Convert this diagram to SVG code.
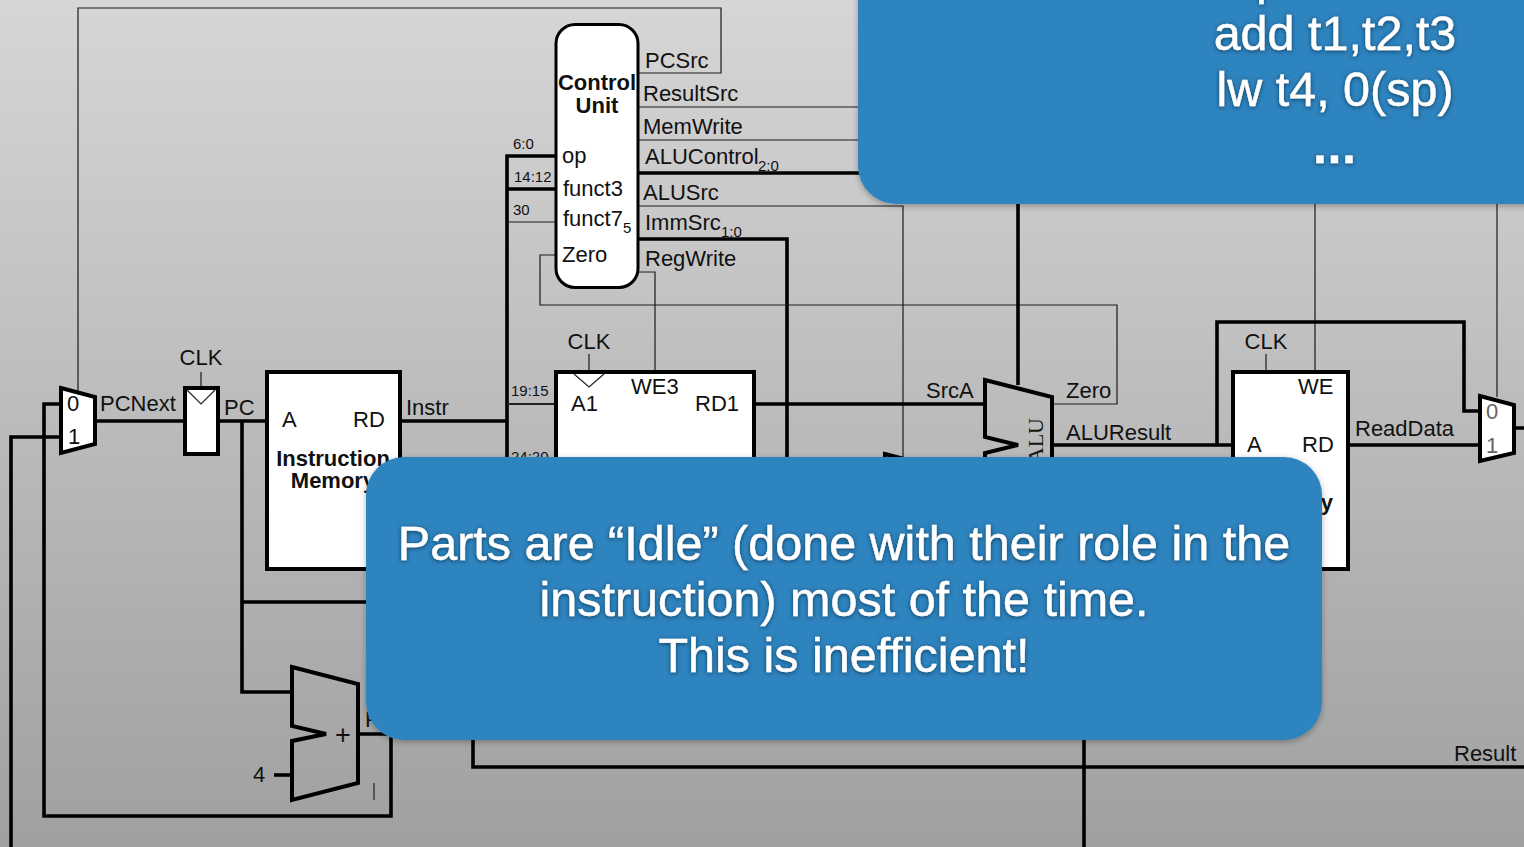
<svg xmlns="http://www.w3.org/2000/svg" width="1524" height="847" viewBox="0 0 1524 847">
<defs>
<linearGradient id="bg" x1="0" y1="0" x2="0" y2="1"><stop offset="0" stop-color="#d6d6d6"/><stop offset="1" stop-color="#a0a0a0"/></linearGradient>
<filter id="boxShadow" x="-5%" y="-5%" width="110%" height="115%"><feDropShadow dx="0" dy="2" stdDeviation="3" flood-color="#000" flood-opacity="0.3"/></filter>
<filter id="textShadow" x="-5%" y="-20%" width="110%" height="140%"><feDropShadow dx="0" dy="1" stdDeviation="2" flood-color="#0a2a44" flood-opacity="0.8"/></filter>
</defs>
<style>
text{font-family:"Liberation Sans",Arial,sans-serif;font-size:22px;fill:#111}
.thick{fill:none;stroke:#000;stroke-width:3.6;stroke-linejoin:miter}
.thin{fill:none;stroke:#1c1c1c;stroke-width:1.2}
.part{fill:#fff;stroke:#000;stroke-width:4;stroke-linejoin:miter}
.open{fill:none;stroke:#000;stroke-width:4;stroke-linejoin:miter}
.clk{fill:#fff;stroke:#222;stroke-width:1.2}
.b{font-weight:bold}
.m{text-anchor:middle}
.s{font-size:15px}
.gray{fill:#666}
.call{fill:#2e84bf;filter:url(#boxShadow)}
.ct{font-size:48.5px;fill:#fff;stroke:#fff;stroke-width:0.4;text-anchor:middle;filter:url(#textShadow)}
</style>
<rect width="1524" height="847" fill="url(#bg)"/>
<g id="connectors">
<path class="thin" d="M638 73H721V8H78V392"/>
<path class="thin" d="M638 107H860M638 140H860"/>
<path class="thick" d="M638 173H860"/>
<path class="thin" d="M638 206H903V470"/>
<path class="thick" d="M638 239H787V470"/>
<path class="thin" d="M638 272H655V371"/>
<path class="thin" d="M556 255H540V305H1117V404H1052"/>
<path class="thick" d="M556 156H507V470M507 189H556M400 421H507"/>
<path class="thin" d="M507 222H556"/>
<path d="M507 404H556" fill="none" stroke="#222" stroke-width="2"/>
<path class="thick" d="M754 404H985"/>
<path class="thick" d="M1018 200V385"/>
<path class="thin" d="M1315 200V371M1497 200V397"/>
<path class="thick" d="M1052 445H1233M1217 445V322H1464V411H1480"/>
<path class="thick" d="M1348 445H1480M1514 428H1524"/>
<path class="thick" d="M473 730V767H1524M1084 730V847"/>
<path class="thick" d="M95 421H184M218 421H267M242 421V692H292M242 602H370"/>
<path class="thick" d="M61 404H44V816H391V734H358"/>
<path class="thick" d="M391 734H400M61 437H11V847"/>
<path class="thick" d="M274 775H292"/>
<path class="thin" d="M201 372V387M589 354V371M1266 354V371"/>
<path d="M374 783V800" fill="none" stroke="#222" stroke-width="1.2"/>
</g>
<g id="pc-mux">
<path class="part" d="M61 388L95 397V444L61 453Z"/>
<text x="67" y="411">0</text><text x="68" y="444">1</text>
</g>
<text x="100" y="411">PCNext</text>
<g id="pc-register">
<rect class="part" x="185" y="388" width="33" height="66"/>
<path class="clk" d="M187 390L201 404L215 390"/>
<text class="m" x="201" y="365">CLK</text>
</g>
<text x="224" y="415">PC</text>
<g id="instruction-memory">
<rect class="part" x="267" y="372" width="133" height="197"/>
<text x="282" y="427">A</text><text x="353" y="427">RD</text>
<text class="b m" x="333" y="466">Instruction</text>
<text class="b m" x="333" y="488">Memory</text>
</g>
<text x="406" y="415">Instr</text>
<g id="pc-adder">
<path class="open" d="M292 667L358 684V783L292 800V741L326 734L292 726Z"/>
<text class="m" x="343" y="744" style="font-size:27px">+</text>
<text x="253" y="782">4</text>
<text x="365" y="727">PCPlus4</text>
</g>
<g id="control-unit">
<rect x="556" y="24.5" width="82" height="263" rx="19" fill="#fff" stroke="#000" stroke-width="3"/>
<text class="b m" x="597" y="90">Control</text>
<text class="b m" x="597" y="113">Unit</text>
<text x="562" y="163">op</text>
<text x="563" y="196">funct3</text>
<text x="563" y="226">funct7</text><text class="s" x="623" y="233">5</text>
<text x="562" y="262">Zero</text>
</g>
<g id="control-labels">
<text x="645" y="68">PCSrc</text>
<text x="643" y="101">ResultSrc</text>
<text x="643" y="134">MemWrite</text>
<text x="645" y="164">ALUControl</text><text class="s" x="758" y="171">2:0</text>
<text x="643" y="200">ALUSrc</text>
<text x="645" y="230">ImmSrc</text><text class="s" x="721" y="237">1:0</text>
<text x="645" y="266">RegWrite</text>
<text class="s" x="513" y="149">6:0</text>
<text class="s" x="514" y="182">14:12</text>
<text class="s" x="513" y="215">30</text>
<text class="s" x="511" y="396">19:15</text>
<text class="s" x="511" y="462">24:20</text>
</g>
<g id="register-file">
<rect class="part" x="556" y="372" width="198" height="197"/>
<path class="clk" d="M574 374L589 387L604 374"/>
<text class="m" x="589" y="349">CLK</text>
<text x="631" y="394">WE3</text>
<text x="571" y="411">A1</text>
<text x="695" y="411">RD1</text>
</g>
<path id="srcb-mux" class="part" d="M885 454L950 471V520H885Z"/>
<text x="926" y="398">SrcA</text>
<g id="alu">
<path class="open" d="M985 380L1052 397V520H985V453L1018 445L985 437Z"/>
<text x="1043" y="418" text-anchor="end" transform="rotate(-90 1043 418)" style="font-family:'Liberation Serif',serif">ALU</text>
</g>
<text x="1066" y="398">Zero</text>
<text x="1066" y="440">ALUResult</text>
<g id="data-memory">
<rect class="part" x="1233" y="372" width="115" height="197"/>
<text class="m" x="1266" y="349">CLK</text>
<text x="1298" y="394">WE</text>
<text x="1247" y="452">A</text>
<text x="1302" y="452">RD</text>
<text class="b" x="1333" y="510" text-anchor="end">Memory</text>
</g>
<text x="1355" y="436">ReadData</text>
<g id="result-mux">
<path class="part" d="M1480 396L1514 405V453L1480 461Z"/>
<text class="gray" x="1486" y="419">0</text><text class="gray" x="1486" y="453">1</text>
</g>
<text x="1454" y="761">Result</text>
<g id="callout-top">
<rect class="call" x="858" y="-80" width="760" height="284" rx="38"/>
<text class="ct" x="1256" y="-6" style="text-anchor:start">p</text>
<text class="ct" x="1335" y="50">add t1,t2,t3</text>
<text class="ct" x="1335" y="106">lw t4, 0(sp)</text>
<text class="ct b" x="1335" y="163" style="letter-spacing:1px">...</text>
</g>
<g id="callout-main">
<rect class="call" x="366" y="457" width="956" height="283" rx="38"/>
<text class="ct" x="844" y="560">Parts are “Idle” (done with their role in the</text>
<text class="ct" x="844" y="616">instruction) most of the time.</text>
<text class="ct" x="844" y="672">This is inefficient!</text>
</g>
</svg>
